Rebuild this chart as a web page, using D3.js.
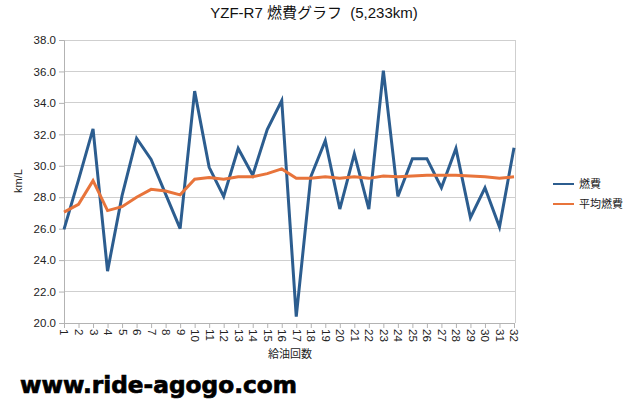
<!DOCTYPE html>
<html><head><meta charset="utf-8">
<script src="https://cdn.jsdelivr.net/npm/d3@7"></script>
<style>body{margin:0;background:#fff}svg{display:block}</style>
</head><body>
<svg id="c" width="640" height="404"></svg>
<script>
const categories = d3.range(1, 33).map(String);
const fuel = [25.95,29.1,32.35,23.3,28.1,31.75,30.4,28.2,26.0,34.75,29.9,28.05,31.1,29.4,32.3,34.15,20.4,29.3,31.6,27.25,30.75,27.25,36.05,28.05,30.45,30.45,28.6,31.1,26.7,28.6,26.1,31.15];
const avgFuel = [27.05,27.55,29.05,27.15,27.4,28.0,28.5,28.4,28.15,29.15,29.25,29.15,29.3,29.3,29.5,29.8,29.2,29.2,29.3,29.2,29.3,29.2,29.35,29.3,29.35,29.4,29.4,29.4,29.35,29.3,29.2,29.3];
const yTicks = [20,22,24,26,28,30,32,34,36,38];
const seriesNames = ["燃費","平均燃費"];
const colors = ["#2c5d8f","#e8743b"];

const svg = d3.select("#c");
const font = "Liberation Sans, Arial, sans-serif";
const L = 64, R = 515, T = 40, B = 323;
const x = d3.scalePoint().domain(categories).range([L, R - 1]);
const y = d3.scaleLinear().domain([20, 38]).range([B, T]);

// grid
svg.append("g").selectAll("line").data(yTicks).join("line")
  .attr("x1", L).attr("x2", R).attr("y1", d => y(d)).attr("y2", d => y(d))
  .attr("stroke", "#cfcfcf").attr("stroke-width", 1).attr("shape-rendering","crispEdges");
svg.append("line").attr("x1", R).attr("x2", R).attr("y1", T).attr("y2", B)
  .attr("stroke", "#cfcfcf").attr("shape-rendering","crispEdges");

// y axis
const ya = svg.append("g").attr("transform", `translate(${L},0)`)
  .call(d3.axisLeft(y).tickValues(yTicks).tickFormat(d3.format(".1f")).tickSize(5).tickPadding(3));
ya.select(".domain").attr("stroke", "#b3b3b3");
ya.selectAll(".tick line").attr("stroke", "#b3b3b3");
ya.selectAll("text").attr("font-family", font).attr("font-size", 11.5).attr("fill", "#222");

// x axis
const xa = svg.append("g").attr("transform", `translate(0,${B})`)
  .call(d3.axisBottom(x).tickSize(5).tickPadding(2));
xa.select(".domain").attr("stroke", "#b3b3b3");
xa.selectAll(".tick line").attr("stroke", "#b3b3b3");
xa.selectAll("text").attr("font-family", font).attr("font-size", 11.5).attr("fill", "#222")
  .attr("transform", "rotate(90)").attr("text-anchor", "start").attr("dy", "0.35em")
  .attr("x", 6).attr("y", 0);

// lines
const line = d3.line().x((d, i) => x(categories[i])).y(d => y(d));
[fuel, avgFuel].forEach((s, k) => {
  svg.append("path").datum(s).attr("d", line).attr("fill", "none")
    .attr("stroke", colors[k]).attr("stroke-width", 3).attr("stroke-linejoin", "miter");
});

// title
svg.append("text").attr("x", 314).attr("y", 18).attr("text-anchor", "middle")
  .style("white-space", "pre")
  .attr("font-family", font + ", Noto Sans CJK JP").attr("font-size", 15).attr("fill", "#111")
  .text("YZF-R7 燃費グラフ  (5,233km)");
// axis titles
svg.append("text").attr("transform", "translate(22,181) rotate(-90)").attr("text-anchor", "middle")
  .attr("font-family", font).attr("font-size", 11).attr("fill", "#222").text("km/L");
svg.append("text").attr("x", 290).attr("y", 358).attr("text-anchor", "middle")
  .attr("font-family", "Noto Sans CJK JP").attr("font-size", 11).attr("fill", "#222").text("給油回数");

// legend
const lg = svg.append("g");
seriesNames.forEach((n, k) => {
  const yy = 184 + k * 20;
  lg.append("line").attr("x1", 553).attr("x2", 574).attr("y1", yy).attr("y2", yy)
    .attr("stroke", colors[k]).attr("stroke-width", 2);
  lg.append("text").attr("x", 579).attr("y", yy + 4).attr("font-family", "Noto Sans CJK JP")
    .attr("font-size", 11).attr("fill", "#222").text(n);
});

// watermark
svg.append("text").attr("x", 20).attr("y", 393).attr("font-family", "DejaVu Sans, sans-serif")
  .attr("font-weight", "bold").attr("font-size", 23).attr("fill", "#000")
  .attr("stroke", "#000").attr("stroke-width", 0.7)
  .attr("textLength", 277).attr("lengthAdjust", "spacingAndGlyphs").text("www.ride-agogo.com");
</script>
</body></html>
